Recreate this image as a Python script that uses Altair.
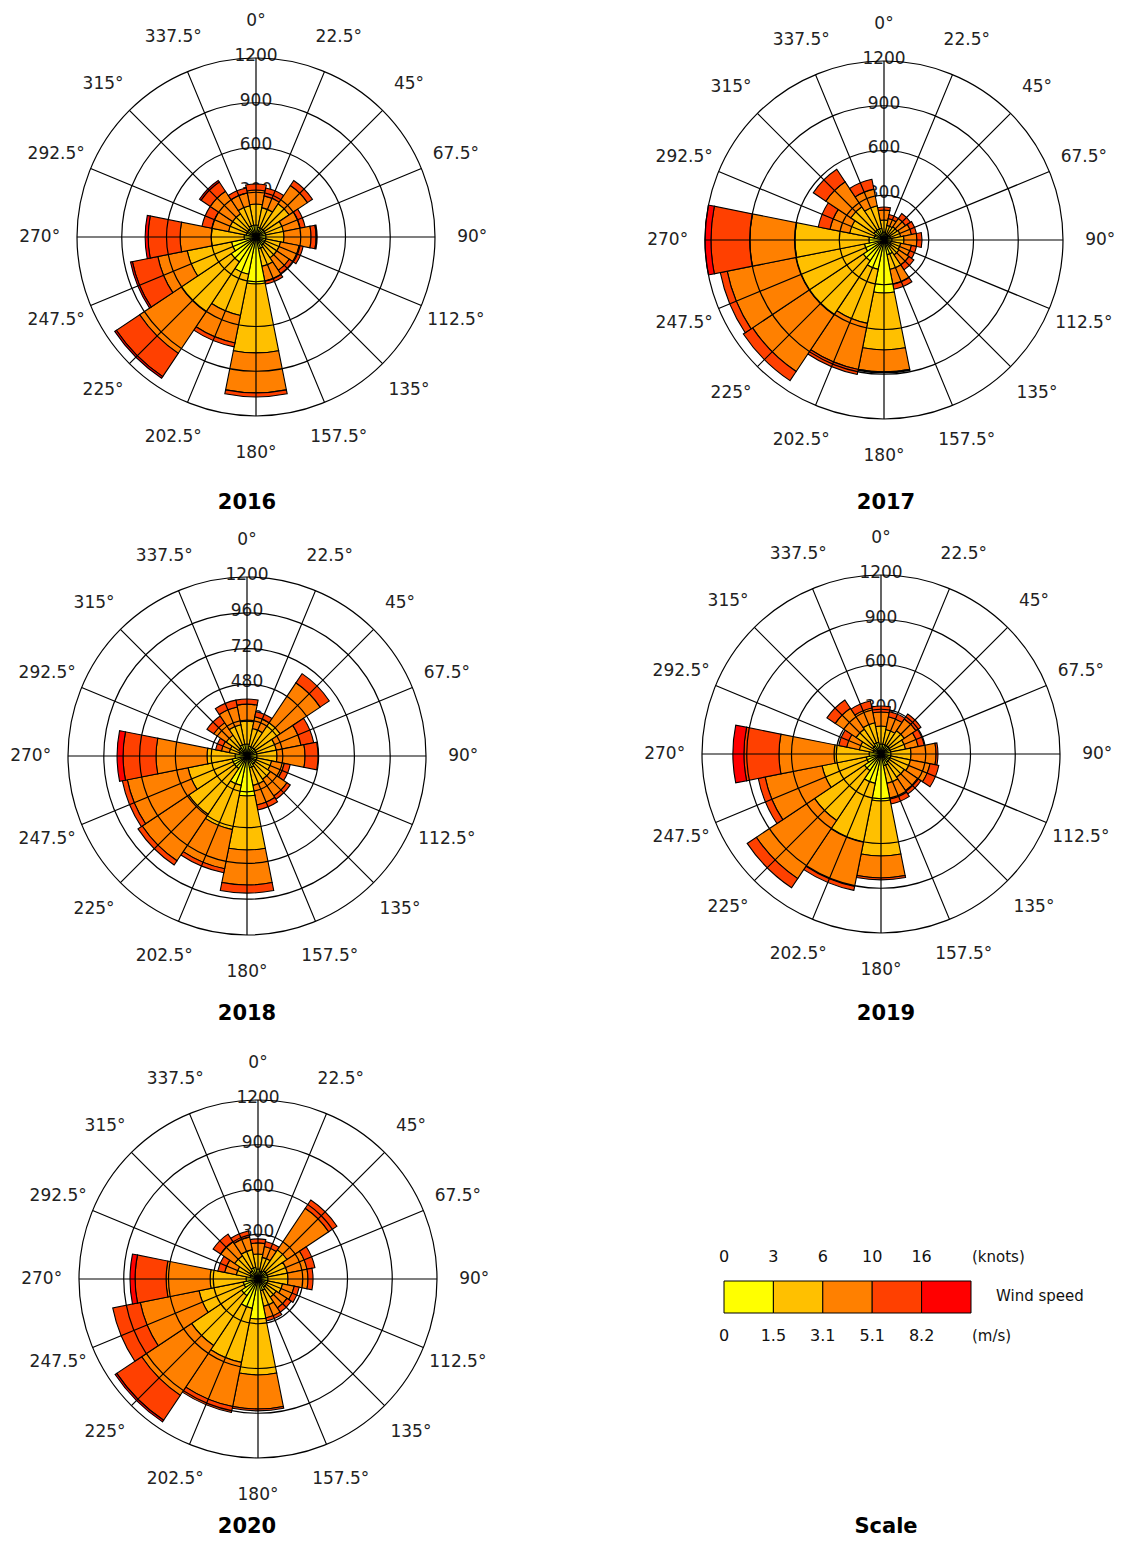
import math
import altair as alt
import pandas as pd

# ---------------- data ----------------
DIRECTIONS = [0, 22.5, 45, 67.5, 90, 112.5, 135, 157.5,
              180, 202.5, 225, 247.5, 270, 292.5, 315, 337.5]
DIR_LABELS = ["0°", "22.5°", "45°", "67.5°", "90°", "112.5°", "135°", "157.5°",
              "180°", "202.5°", "225°", "247.5°", "270°", "292.5°", "315°", "337.5°"]
SPEED_CLASSES = ["0-1.5", "1.5-3.1", "3.1-5.1", "5.1-8.2", ">8.2"]
SPEED_COLORS = ["#FFFF00", "#FFC000", "#FF8000", "#FF4000", "#FF0000"]
KNOTS_TICKS = ["0", "3", "6", "10", "16"]
MS_TICKS = ["0", "1.5", "3.1", "5.1", "8.2"]
YEARS = ["2016", "2017", "2018", "2019", "2020"]

# hours per direction (N, NNE, ... NNW) for each wind speed class
y2016_c1 = [80, 67, 67, 67, 67, 67, 67, 80, 315, 255, 201, 168, 80, 67, 67, 80]
y2016_c2 = [141, 134, 201, 121, 121, 101, 101, 121, 462, 281, 402, 302, 221, 121, 121, 134]
y2016_c3 = [94, 80, 147, 114, 181, 127, 101, 101, 268, 188, 335, 201, 208, 114, 181, 87]
y2016_c4 = [40, 54, 40, 34, 34, 27, 27, 20, 27, 27, 188, 174, 214, 67, 74, 34]
y2016_c5 = [0, 0, 0, 0, 7, 0, 0, 0, 0, 0, 13, 13, 20, 0, 13, 0]

y2017_c1 = [54, 40, 40, 47, 54, 47, 54, 101, 355, 201, 168, 134, 101, 67, 80, 80]
y2017_c2 = [80, 60, 67, 67, 80, 67, 67, 101, 382, 369, 436, 469, 496, 168, 188, 154]
y2017_c3 = [67, 47, 67, 74, 87, 74, 80, 101, 147, 315, 456, 469, 302, 134, 201, 114]
y2017_c4 = [20, 27, 40, 34, 34, 34, 40, 34, 7, 34, 74, 47, 261, 80, 101, 67]
y2017_c5 = [0, 0, 0, 0, 0, 0, 0, 0, 0, 0, 0, 0, 40, 0, 0, 0]

y2018_c1 = [80, 67, 67, 67, 67, 67, 67, 80, 268, 201, 101, 101, 80, 54, 67, 80]
y2018_c2 = [154, 121, 201, 134, 134, 101, 121, 121, 362, 302, 369, 302, 188, 67, 101, 134]
y2018_c3 = [114, 80, 322, 168, 188, 87, 134, 134, 235, 268, 375, 415, 342, 54, 101, 121]
y2018_c4 = [34, 34, 74, 87, 87, 40, 27, 34, 54, 27, 34, 34, 221, 40, 54, 47]
y2018_c5 = [0, 0, 0, 0, 0, 0, 0, 0, 0, 0, 0, 0, 40, 0, 0, 0]

y2019_c1 = [67, 67, 67, 67, 67, 67, 67, 80, 315, 201, 134, 101, 80, 54, 67, 80]
y2019_c2 = [121, 101, 121, 101, 134, 134, 121, 121, 369, 402, 402, 302, 235, 94, 134, 134]
y2019_c3 = [94, 87, 94, 87, 168, 134, 107, 107, 147, 302, 469, 389, 369, 87, 168, 101]
y2019_c4 = [40, 34, 40, 40, 13, 60, 27, 34, 13, 27, 74, 47, 235, 54, 67, 47]
y2019_c5 = [0, 0, 0, 0, 0, 0, 0, 0, 0, 0, 0, 0, 74, 0, 0, 0]

y2020_c1 = [67, 54, 67, 67, 67, 67, 67, 80, 268, 201, 134, 101, 80, 54, 67, 80]
y2020_c2 = [101, 94, 168, 134, 134, 101, 80, 107, 375, 369, 402, 302, 241, 94, 121, 121]
y2020_c3 = [74, 74, 335, 134, 134, 80, 87, 80, 228, 302, 402, 402, 295, 80, 114, 87]
y2020_c4 = [27, 34, 67, 54, 34, 34, 34, 20, 13, 40, 201, 188, 208, 47, 60, 40]
y2020_c5 = [0, 0, 0, 0, 0, 0, 0, 0, 0, 0, 13, 0, 34, 0, 0, 0]

RINGS_300 = [300, 600, 900, 1200]
RINGS_240 = [240, 480, 720, 960, 1200]

YEAR_DATA = {
    "2016": [y2016_c1, y2016_c2, y2016_c3, y2016_c4, y2016_c5],
    "2017": [y2017_c1, y2017_c2, y2017_c3, y2017_c4, y2017_c5],
    "2018": [y2018_c1, y2018_c2, y2018_c3, y2018_c4, y2018_c5],
    "2019": [y2019_c1, y2019_c2, y2019_c3, y2019_c4, y2019_c5],
    "2020": [y2020_c1, y2020_c2, y2020_c3, y2020_c4, y2020_c5],
}
YEAR_RINGS = {"2016": RINGS_300, "2017": RINGS_300, "2018": RINGS_240,
              "2019": RINGS_300, "2020": RINGS_300}

# ---------------- layout / styling (not data) ----------------
W, H = 1108, 1529
R_MAX = 1200
R_PX = 179
LABEL_R = 1450              # direction labels radius, in count units
RING_LABEL_SHIFT = 14       # ring labels sit just above their circle (count units)
HALF = 11.25                # half sector width, degrees
FONT = "DejaVu Sans"
TXT = "#222222"
# rose centres and year-title positions, in px of the plot area
LAYOUT = {
    "2016": dict(cx=248, cy=229, tx=239, ty=495),
    "2017": dict(cx=876, cy=232, tx=878, ty=495),
    "2018": dict(cx=239, cy=748, tx=239, ty=1006),
    "2019": dict(cx=873, cy=746, tx=878, ty=1006),
    "2020": dict(cx=250, cy=1271, tx=239, ty=1519),
}
LEG = dict(x0=716, step=49.4, top=1273, bottom=1305, knots_y=1249, ms_y=1328,
           unit_x=964, ws_x=988, ws_y=1288, tx=878, ty=1519)

# ---------------- tables ----------------
bar_rows, ring_rows, spoke_rows, lab_rows, title_rows = [], [], [], [], []
for yr in YEARS:
    L = LAYOUT[yr]
    for di, d in enumerate(DIRECTIONS):
        cum = 0
        for ci, cls in enumerate(SPEED_CLASSES):
            v = YEAR_DATA[yr][ci][di]
            if v > 0:
                bar_rows.append(dict(year=yr, cx=L["cx"], cy=L["cy"], cls=cls,
                                     t0=d - HALF, t1=d + HALF, r0=cum, r1=cum + v))
            cum += v
        spoke_rows.append(dict(year=yr, cx=L["cx"], cy=L["cy"], dir=d, r=R_MAX))
        lab_rows.append(dict(year=yr, cx=L["cx"], cy=L["cy"], dir=d,
                             label=DIR_LABELS[di], r=LABEL_R))
    for rg in YEAR_RINGS[yr]:
        ring_rows.append(dict(year=yr, cx=L["cx"], cy=L["cy"], ring=rg, zero=0,
                              dir=0, lr=rg + RING_LABEL_SHIFT, text=str(rg)))
    title_rows.append(dict(t=yr, x=L["tx"], y=L["ty"]))
title_rows.append(dict(t="Scale", x=LEG["tx"], y=LEG["ty"]))

bars_df = pd.DataFrame(bar_rows)
rings_df = pd.DataFrame(ring_rows)
spokes_df = pd.DataFrame(spoke_rows)
labs_df = pd.DataFrame(lab_rows)
titles_df = pd.DataFrame(title_rows)

xs = alt.Scale(domain=[0, W], nice=False, zero=False)
ys = alt.Scale(domain=[0, H], reverse=True, nice=False, zero=False)
rs = alt.Scale(type="linear", domain=[0, R_MAX], range=[0, R_PX], nice=False, zero=True)
ts = alt.Scale(domain=[0, 360], range=[0, 2 * math.pi], nice=False, zero=False)
cs = alt.Scale(domain=SPEED_CLASSES, range=SPEED_COLORS)


def CX(f="cx:Q"):
    return alt.X(f, scale=xs, axis=None)


def CY(f="cy:Q"):
    return alt.Y(f, scale=ys, axis=None)


ring_labels = alt.Chart(rings_df).mark_text(
    font=FONT, fontSize=17, color=TXT, baseline="middle", align="center"
).encode(x=CX(), y=CY(), theta=alt.Theta("dir:Q", scale=ts),
         radius=alt.Radius("lr:Q", scale=rs), text="text:N")

bars = alt.Chart(bars_df).mark_arc(stroke="black", strokeWidth=1.1).encode(
    x=CX(), y=CY(),
    theta=alt.Theta("t0:Q", scale=ts), theta2="t1:Q",
    radius=alt.Radius("r1:Q", scale=rs), radius2="r0:Q",
    color=alt.Color("cls:N", scale=cs, legend=None),
)

circles = alt.Chart(rings_df).mark_arc(
    theta=0, theta2=2 * math.pi, fillOpacity=0, stroke="black", strokeWidth=1.2
).encode(x=CX(), y=CY(), radius=alt.Radius("ring:Q", scale=rs, stack=False),
         radius2="zero:Q")

spokes = alt.Chart(spokes_df).mark_arc(
    fillOpacity=0, stroke="black", strokeWidth=1.2
).encode(x=CX(), y=CY(), theta=alt.Theta("dir:Q", scale=ts), theta2="dir:Q",
         radius=alt.Radius("r:Q", scale=rs))

dir_labels = alt.Chart(labs_df).mark_text(
    font=FONT, fontSize=17, color=TXT, baseline="middle", align="center"
).encode(x=CX(), y=CY(), theta=alt.Theta("dir:Q", scale=ts),
         radius=alt.Radius("r:Q", scale=rs), text="label:N")

titles = alt.Chart(titles_df).mark_text(
    font=FONT, fontSize=21, fontWeight="bold", color="black", baseline="middle", align="center"
).encode(x=CX("x:Q"), y=CY("y:Q"), text="t:N")

# ---- scale legend ----
box_df = pd.DataFrame({"i": list(range(len(SPEED_CLASSES))), "cls": SPEED_CLASSES})
boxes = alt.Chart(box_df).transform_calculate(
    xa=f"{LEG['x0']} + datum.i * {LEG['step']}",
    xb=f"{LEG['x0']} + (datum.i + 1) * {LEG['step']}",
    ya=f"{LEG['top']}", yb=f"{LEG['bottom']}",
).mark_rect(stroke="black", strokeWidth=1).encode(
    x=CX("xa:Q"), x2="xb:Q", y=CY("ya:Q"), y2="yb:Q",
    color=alt.Color("cls:N", scale=cs, legend=None),
)
tick_df = pd.DataFrame({"i": list(range(5)) * 2,
                        "t": KNOTS_TICKS + MS_TICKS,
                        "row": ["knots"] * 5 + ["ms"] * 5})
ticks = alt.Chart(tick_df).transform_calculate(
    xa=f"{LEG['x0']} + datum.i * {LEG['step']}",
    ya=f"datum.row == 'knots' ? {LEG['knots_y']} : {LEG['ms_y']}",
).mark_text(font=FONT, fontSize=16, color="#111111", baseline="middle", align="center").encode(
    x=CX("xa:Q"), y=CY("ya:Q"), text="t:N")
unit_df = pd.DataFrame({"t": ["(knots)", "(m/s)", "Wind speed"],
                        "x": [LEG["unit_x"], LEG["unit_x"], LEG["ws_x"]],
                        "y": [LEG["knots_y"], LEG["ms_y"], LEG["ws_y"]]})
units = alt.Chart(unit_df).mark_text(
    font=FONT, fontSize=15, color="#111111", baseline="middle", align="left"
).encode(x=CX("x:Q"), y=CY("y:Q"), text="t:N")

chart = alt.layer(
    ring_labels, bars, circles, spokes, dir_labels, titles, boxes, ticks, units
).properties(
    width=W, height=H, padding=0,
    autosize=alt.AutoSizeParams(type="none"),
).configure_view(strokeWidth=0)

chart.save("out.html", embed_options={"renderer": "svg", "actions": False})
